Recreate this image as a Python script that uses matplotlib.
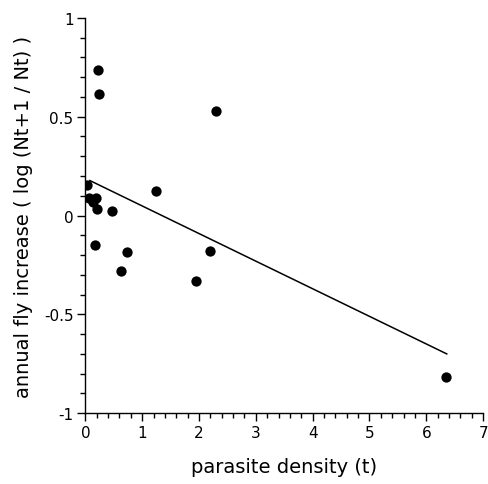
import numpy as np
import matplotlib
matplotlib.use('Agg')
import matplotlib.pyplot as plt
from matplotlib.ticker import MultipleLocator

# parasite density (t) vs annual fly increase
density = [0.03, 0.07, 0.13, 0.19, 0.21, 0.17, 0.22, 0.24, 0.46, 1.25, 0.62, 0.73,
           1.94, 2.20, 2.29, 6.35]
increase = [0.155, 0.088, 0.068, 0.091, 0.034, -0.147, 0.737, 0.615, 0.022, 0.125,
            -0.282, -0.185, -0.332, -0.180, 0.527, -0.815]

# regression line endpoints
fit_x = [0.08, 6.36]
fit_y = [0.177, -0.700]

fig = plt.figure(figsize=(4.88, 4.85), dpi=100)
ax = fig.add_axes([0.175, 0.146, 0.815, 0.815])

ax.scatter(density, increase, s=55, color='black', zorder=3, linewidths=0)
ax.plot(fit_x, fit_y, color='black', lw=1.1)

ax.set_xlim(0, 7)
ax.set_ylim(-1, 1)
ax.xaxis.set_major_locator(MultipleLocator(1))
ax.xaxis.set_minor_locator(MultipleLocator(0.2))
ax.yaxis.set_major_locator(MultipleLocator(0.5))
ax.yaxis.set_minor_locator(MultipleLocator(0.1))
ax.set_yticks([-1, -0.5, 0, 0.5, 1])
ax.set_yticklabels(['-1', '-0.5', '0', '0.5', '1'])

for s in ['top', 'right']:
    ax.spines[s].set_visible(False)
for s in ['left', 'bottom']:
    ax.spines[s].set_linewidth(1.0)

ax.tick_params(which='major', length=5.5, width=1, labelsize=11, pad=3)
ax.tick_params(which='minor', length=3.5, width=1)

ax.set_xlabel('parasite density (t)', fontsize=14, labelpad=12)
ax.set_ylabel('annual fly increase ( log (Nt+1 / Nt) )', fontsize=14, labelpad=8)

fig.savefig('out.png', dpi=100)
